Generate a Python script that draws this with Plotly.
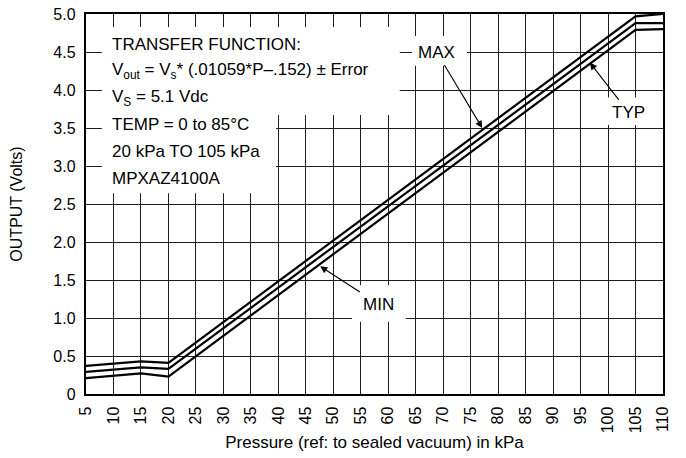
import plotly.graph_objects as go

# ---- data ----
pressure = [5, 15, 20, 105, 110]
v_max = [0.37, 0.43, 0.41, 4.97, 5.0]
v_typ = [0.29, 0.35, 0.33, 4.88, 4.88]
v_min = [0.21, 0.27, 0.23, 4.79, 4.80]

x_ticks = list(range(5, 111, 5))
y_ticks = [0, 0.5, 1.0, 1.5, 2.0, 2.5, 3.0, 3.5, 4.0, 4.5, 5.0]
y_ticktext = ["0", "0.5", "1.0", "1.5", "2.0", "2.5", "3.0", "3.5", "4.0", "4.5", "5.0"]

info_lines = [
    "TRANSFER FUNCTION:",
    "V<sub>out</sub> = V<sub>s</sub>* (.01059*P\u2013.152) \u00b1 Error",
    "V<sub>S</sub> = 5.1 Vdc",
    "TEMP = 0 to 85\u00b0C",
    "20 kPa TO 105 kPa",
    "MPXAZ4100A",
]
info_y = [4.60, 4.25, 3.89, 3.54, 3.19, 2.83]

FONT = "Liberation Sans, Arial, Helvetica, sans-serif"

fig = go.Figure()
for name, vals in [("MAX", v_max), ("TYP", v_typ), ("MIN", v_min)]:
    fig.add_trace(go.Scatter(x=pressure, y=vals, mode="lines", name=name,
                             line=dict(color="black", width=2.2)))

shapes = []
def white_box(x0, x1, y0, y1):
    shapes.append(dict(type="rect", xref="x", yref="y", x0=x0, x1=x1, y0=y0, y1=y1,
                       fillcolor="white", line=dict(width=0), layer="between"))

white_box(7.9, 62.1, 3.67, 4.83)
white_box(7.9, 39.6, 2.64, 4.83)
white_box(64.3, 74.3, 4.32, 4.71)
white_box(99.4, 108.0, 3.54, 3.90)
white_box(53.4, 63.2, 0.95, 1.43)

annotations = []
for t, yy in zip(info_lines, info_y):
    annotations.append(dict(x=9.4, y=yy, xref="x", yref="y", text=t, showarrow=False,
                            xanchor="left", yanchor="middle",
                            font=dict(family=FONT, size=17, color="black")))

# label text position (ax, ay) and arrow head position (x, y)
callouts = [("MAX", 68.8, 4.50, 77.1, 3.50),
            ("TYP", 103.8, 3.70, 96.7, 4.36),
            ("MIN", 58.3, 1.18, 47.6, 1.68)]
for t, tx, ty, hx, hy in callouts:
    annotations.append(dict(x=hx, y=hy, xref="x", yref="y", ax=tx, ay=ty,
                            axref="x", ayref="y", text=t, showarrow=True,
                            arrowhead=2, arrowsize=1.3, arrowwidth=1.1,
                            arrowcolor="black", standoff=0, borderpad=3,
                            font=dict(family=FONT, size=17, color="black")))

# The page body adds an 8px offset, so the figure is sized to fit the 686x458 window.
fig.update_layout(
    width=678, height=450,
    margin=dict(l=78, r=23, t=6, b=64),
    paper_bgcolor="white", plot_bgcolor="white",
    showlegend=False,
    font=dict(family=FONT, size=16, color="black"),
    shapes=shapes,
    annotations=annotations,
)
fig.update_xaxes(
    range=[5, 110], tickvals=x_ticks, ticktext=[str(v) for v in x_ticks],
    tickangle=-90, tickfont=dict(size=16, color="black"),
    showgrid=True, gridcolor="#1e1e1e", gridwidth=1.3,
    showline=True, linecolor="black", linewidth=2.4, mirror=True,
    zeroline=False, ticks="", ticklabelstandoff=4, automargin=False,
    ticklabeloverflow="allow",
    title=dict(text="Pressure (ref: to sealed vacuum) in kPa",
               font=dict(size=17, color="black"), standoff=4),
)
fig.update_yaxes(
    range=[0, 5], tickvals=y_ticks, ticktext=y_ticktext,
    tickfont=dict(size=16, color="black"),
    showgrid=True, gridcolor="#1e1e1e", gridwidth=1.3,
    showline=True, linecolor="black", linewidth=2.4, mirror=True,
    zeroline=False, ticks="", ticklabelstandoff=5, automargin=False,
    ticklabeloverflow="allow",
    title=dict(text="OUTPUT (Volts)", font=dict(size=16, color="black"), standoff=27),
)

fig.write_html("out.html")
